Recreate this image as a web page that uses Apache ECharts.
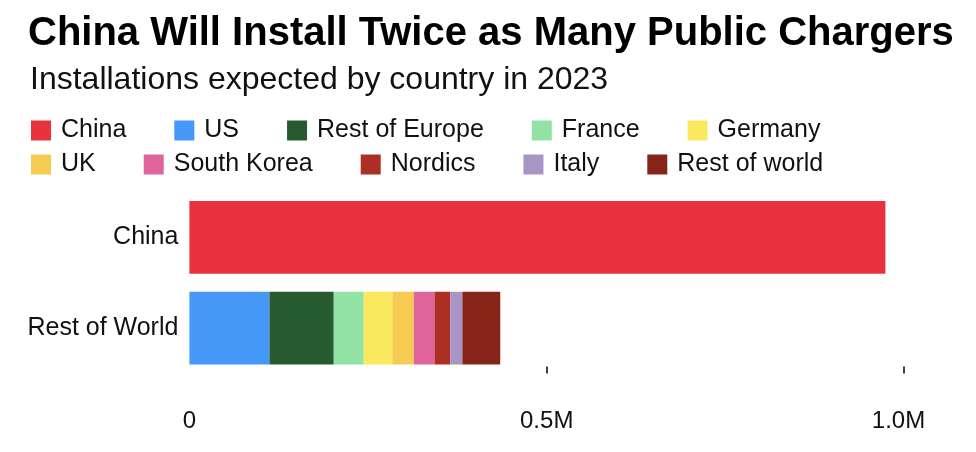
<!DOCTYPE html>
<html>
<head>
<meta charset="utf-8">
<script src="https://cdn.jsdelivr.net/npm/echarts@6/dist/echarts.min.js"></script>
<style>
  html, body { margin: 0; padding: 0; background: #fff; }
  #chart { width: 976px; height: 452px; }
</style>
</head>
<body>
<div id="chart"></div>
<script>
const titleText = 'China Will Install Twice as Many Public Chargers';
const subtitleText = 'Installations expected by country in 2023';
const categories = ['China', 'Rest of World'];
const seriesNames = ['China', 'US', 'Rest of Europe', 'France', 'Germany', 'UK', 'South Korea', 'Nordics', 'Italy', 'Rest of world'];
const seriesColors = ['#e8333f', '#4598f7', '#285a30', '#92e2a5', '#fae95f', '#f6cb52', '#df659c', '#ad2e22', '#a895c6', '#87241a'];
// values per series: [China row, Rest of World row]
const chinaValues = [974000, null];
const usValues = [null, 112000];
const restOfEuropeValues = [null, 90000];
const franceValues = [null, 42000];
const germanyValues = [null, 40000];
const ukValues = [null, 30000];
const southKoreaValues = [null, 29000];
const nordicsValues = [null, 22000];
const italyValues = [null, 17000];
const restOfWorldValues = [null, 53000];
const tickValues = [0, 500000, 1000000];
const tickLabels = ['0', '0.5M', '1.0M'];

const seriesValues = [chinaValues, usValues, restOfEuropeValues, franceValues, germanyValues,
  ukValues, southKoreaValues, nordicsValues, italyValues, restOfWorldValues];

const FONT = '"Liberation Sans", Arial, Helvetica, sans-serif';
const chart = echarts.init(document.getElementById('chart'), null, { renderer: 'canvas' });

const legendCommon = {
  left: 31,
  padding: 0,
  icon: 'rect',
  itemWidth: 20,
  itemHeight: 20,
  itemGap: 48,
  selectedMode: false,
  textStyle: { fontSize: 25, color: '#111', fontFamily: FONT, padding: [0, 0, 0, 5] }
};

chart.setOption({
  animation: false,
  textStyle: { fontFamily: FONT },
  title: [
    { text: titleText, left: 28, top: 14, padding: 0,
      textStyle: { fontSize: 40, fontWeight: 'bold', color: '#000', fontFamily: FONT } },
    { text: subtitleText, left: 30, top: 64, padding: 0,
      textStyle: { fontSize: 32, fontWeight: 'normal', color: '#111', fontFamily: FONT } }
  ],
  legend: [
    Object.assign({ top: 118, data: seriesNames.slice(0, 5) }, legendCommon),
    Object.assign({ top: 152, data: seriesNames.slice(5) }, legendCommon)
  ],
  grid: { left: 189.4, right: 72, top: 192, bottom: 78.5 },
  xAxis: {
    type: 'value',
    min: 0,
    max: 1000000,
    interval: 500000,
    splitLine: { show: false },
    axisLine: { show: false },
    axisTick: { show: true, inside: true, length: 7, customValues: tickValues.slice(1),
      lineStyle: { color: '#000', width: 1.5 } },
    axisLabel: {
      customValues: tickValues,
      formatter: v => {
        const i = tickValues.indexOf(v);
        return i === tickValues.length - 1 ? '{last|' + tickLabels[i] + '}' : tickLabels[i];
      },
      rich: { last: { fontSize: 24, color: '#111', fontFamily: FONT, padding: [0, 11, 0, 0] } },
      fontSize: 24, color: '#111', margin: 36, fontFamily: FONT
    }
  },
  yAxis: {
    type: 'category',
    data: categories,
    inverse: true,
    axisLine: { show: false },
    axisTick: { show: false },
    axisLabel: { fontSize: 25, color: '#111', margin: 11, fontFamily: FONT }
  },
  series: seriesNames.map((name, i) => ({
    name: name,
    type: 'bar',
    stack: 'total',
    barCategoryGap: '20%',
    itemStyle: { color: seriesColors[i] },
    emphasis: { disabled: true },
    data: seriesValues[i]
  }))
});
</script>
</body>
</html>
